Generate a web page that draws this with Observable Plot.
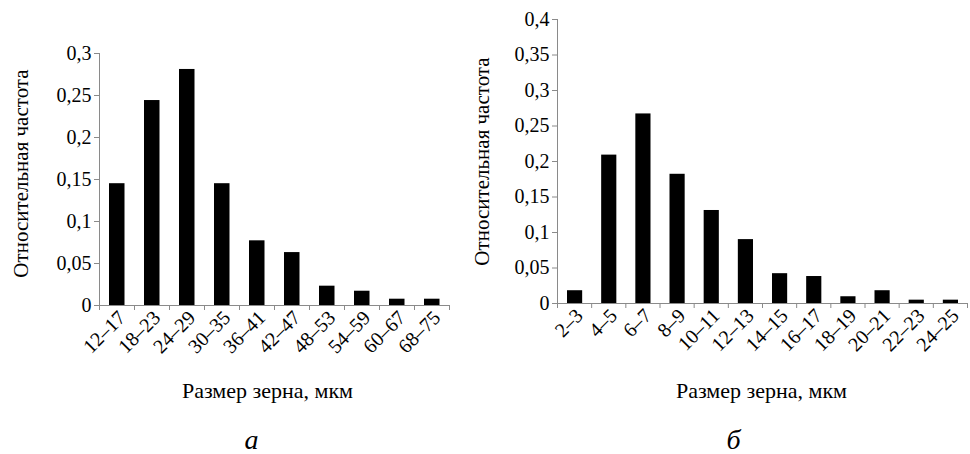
<!DOCTYPE html>
<html><head><meta charset="utf-8">
<script src="https://cdn.jsdelivr.net/npm/d3@7"></script>
<script src="https://cdn.jsdelivr.net/npm/@observablehq/plot@0.6"></script>
<style>
html,body{margin:0;padding:0;background:#fff;}
#wrap{display:flex;width:970px;height:454px;}
</style></head><body><div id="wrap"></div>
<script>
// Panel а
const catsA = ["12–17","18–23","24–29","30–35","36–41","42–47","48–53","54–59","60–67","68–75"];
const valsA = [0.145,0.244,0.281,0.145,0.077,0.063,0.023,0.017,0.0075,0.0075];
const yTicksA = [0,0.05,0.1,0.15,0.2,0.25,0.3];
// Panel б
const catsB = ["2–3","4–5","6–7","8–9","10–11","12–13","14–15","16–17","18–19","20–21","22–23","24–25"];
const valsB = [0.018,0.209,0.267,0.182,0.131,0.09,0.042,0.038,0.0095,0.018,0.0047,0.0047];
const yTicksB = [0,0.05,0.1,0.15,0.2,0.25,0.3,0.35,0.4];
// Texts
const yLabel = "Относительная частота";
const xLabel = "Размер зерна, мкм";
const letters = ["а","б"];

const AXIS = "#8a8a8a", FF = "'Liberation Serif'";
const fmt = d => String(d).replace(".", ",");

function panel(cats, vals, yTicks, letter, g) {
  const n = cats.length;
  const data = vals.map((v, i) => ({i, v}));
  const svg = Plot.plot({
    width: g.width, height: 454,
    marginLeft: g.ml, marginRight: g.mr, marginTop: g.mt, marginBottom: 454 - g.bottom,
    x: {type: "linear", domain: [0, n], axis: null},
    y: {domain: [0, yTicks[yTicks.length - 1]], axis: null},
    style: {fontSize: "20px"},
    marks: [
      Plot.rectY(data, {x1: d => d.i, x2: d => d.i + 1, y: "v", insetLeft: g.il, insetRight: g.ir, fill: "#000"}),
      Plot.ruleX([0], {stroke: AXIS}),
      Plot.ruleY([0], {stroke: AXIS}),
      Plot.axisY({ticks: yTicks, tickFormat: fmt, tickSize: 5, tickPadding: 3, stroke: AXIS, fontSize: 20, label: null}),
      Plot.axisX({ticks: d3.range(n + 1), tickFormat: () => "", tickSize: 5, stroke: AXIS, label: null}),
      Plot.axisX({ticks: d3.range(n).map(i => i + 0.5), tickFormat: t => cats[Math.floor(t)], tickSize: 0, tickPadding: 9, tickRotate: -45, fontSize: 20, label: null, dx: 5}),
      Plot.text([yLabel], {text: d => d, frameAnchor: "left", textAnchor: "middle", rotate: -90, lineAnchor: "top", dx: -g.lo, dy: g.ldy, fontSize: 21}),
      Plot.text([xLabel], {text: d => d, frameAnchor: "bottom", textAnchor: "middle", lineAnchor: "bottom", dy: g.xdy, dx: g.xdx, fontSize: 22}),
      Plot.text([letter], {text: d => d, frameAnchor: "bottom", textAnchor: "middle", lineAnchor: "bottom", dy: g.pdy, dx: g.pdx, fontSize: 28, fontStyle: "italic"})
    ]
  });
  svg.style.setProperty("font-family", FF, "important");
  svg.style.setProperty("flex", "none");
  svg.style.setProperty("max-width", "none");
  svg.querySelectorAll("g, text").forEach(el => el.style.setProperty("font-family", FF, "important"));
  return svg;
}

const wrap = document.getElementById("wrap");
const a = panel(catsA, valsA, yTicksA, letters[0], {width: 480, ml: 99, mr: 31, mt: 53, bottom: 305, il: 10, ir: 9.5, lo: 86, ldy: -6, xdy: 92, xdx: -7, pdy: 143, pdx: -23});
const b = panel(catsB, valsB, yTicksB, letters[1], {width: 530, ml: 117, mr: 3, mt: 19, bottom: 303, il: 10, ir: 9, lo: 83, ldy: 0, xdy: 94, xdx: -1, pdy: 145, pdx: -29});
b.style.setProperty("margin-left", "-40px");
wrap.appendChild(a);
wrap.appendChild(b);
</script></body></html>
